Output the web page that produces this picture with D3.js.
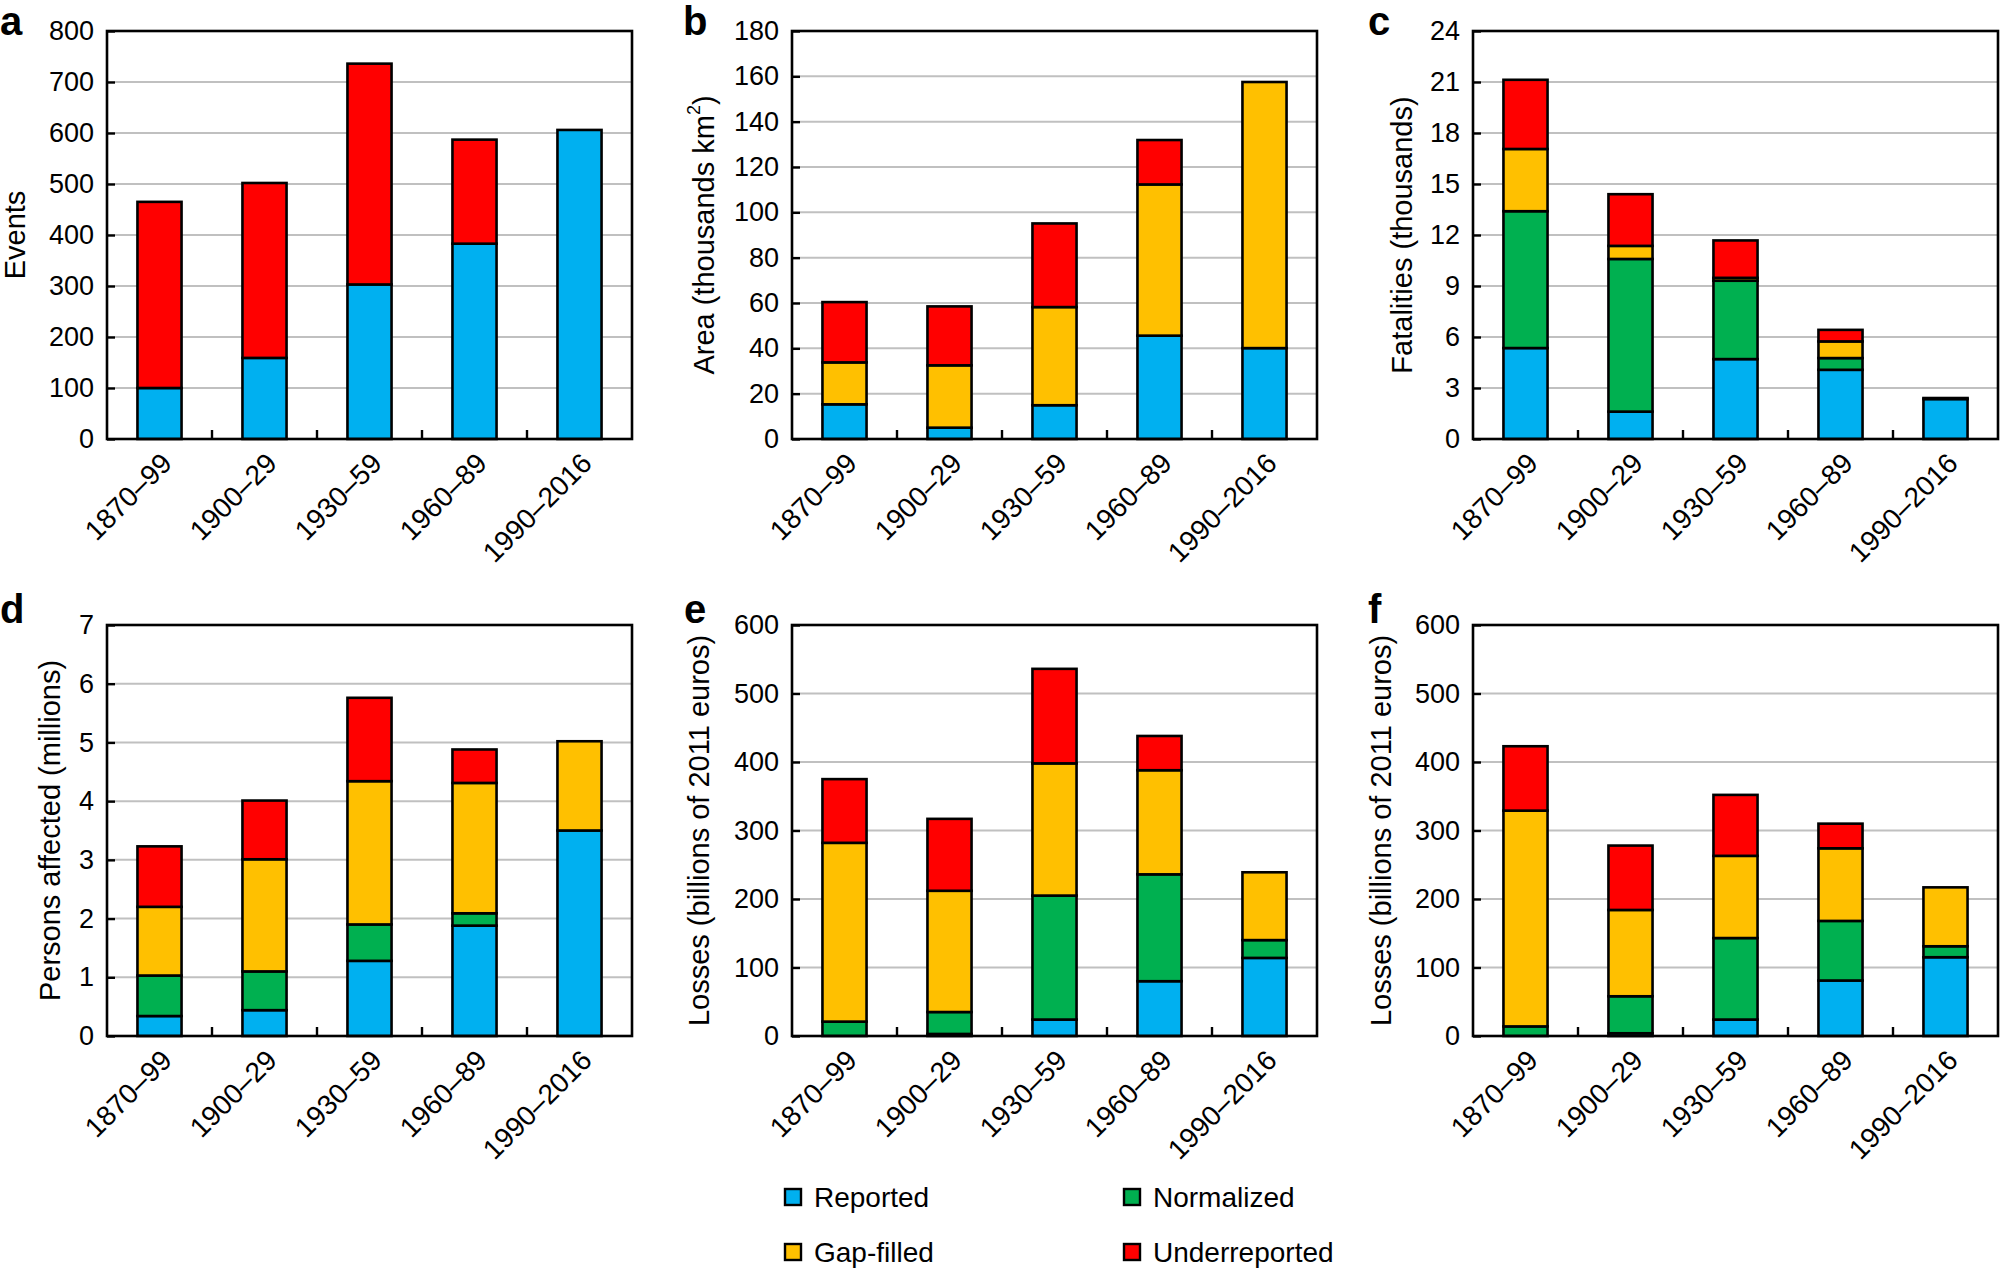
<!DOCTYPE html>
<html><head><meta charset="utf-8">
<script src="https://cdn.jsdelivr.net/npm/d3@7"></script>
<style>
body{margin:0;background:#fff}
text{font-family:"Liberation Sans",Arial,Helvetica,sans-serif;fill:#000}
</style>
</head><body>
<svg id="chart" width="2002" height="1269"></svg>
<script>
// ---------- data ----------
const categories = ["1870–99","1900–29","1930–59","1960–89","1990–2016"];
const seriesNames = ["Reported","Normalized","Gap-filled","Underreported"];
const seriesColors = ["#00b0f0","#00b050","#ffc000","#ff0000"];

// a: Events
const eventsReported      = [100, 159, 303, 383, 606];
const eventsNormalized    = [0, 0, 0, 0, 0];
const eventsGapFilled     = [0, 0, 0, 0, 0];
const eventsUnderreported = [365, 343, 433, 204, 0];
const eventsTicks = [0,100,200,300,400,500,600,700,800];

// b: Area (thousands km2)
const areaReported      = [15.3, 5.0, 14.9, 45.6, 40.1];
const areaNormalized    = [0, 0, 0, 0, 0];
const areaGapFilled     = [18.5, 27.5, 43.3, 66.7, 117.4];
const areaUnderreported = [26.6, 26.0, 36.9, 19.6, 0];
const areaTicks = [0,20,40,60,80,100,120,140,160,180];

// c: Fatalities (thousands)
const fatalReported      = [5.35, 1.61, 4.70, 4.07, 2.35];
const fatalNormalized    = [8.05, 8.98, 4.61, 0.69, 0.06];
const fatalGapFilled     = [3.66, 0.77, 0.17, 0.98, 0];
const fatalUnderreported = [4.07, 3.04, 2.20, 0.68, 0];
const fatalTicks = [0,3,6,9,12,15,18,21,24];

// d: Persons affected (millions)
const persReported      = [0.34, 0.44, 1.28, 1.88, 3.50];
const persNormalized    = [0.69, 0.66, 0.62, 0.21, 0];
const persGapFilled     = [1.17, 1.91, 2.44, 2.22, 1.52];
const persUnderreported = [1.03, 1.00, 1.42, 0.57, 0];
const persTicks = [0,1,2,3,4,5,6,7];

// e: Losses (billions of 2011 euros)
const lossEReported      = [0, 3, 24, 80, 114];
const lossENormalized    = [21, 32, 181, 156, 26];
const lossEGapFilled     = [261, 177, 193, 152, 99];
const lossEUnderreported = [93, 105, 138, 50, 0];
const lossETicks = [0,100,200,300,400,500,600];

// f: Losses (billions of 2011 euros)
const lossFReported      = [0, 4, 24, 81, 115];
const lossFNormalized    = [14, 54, 119, 87, 16];
const lossFGapFilled     = [315, 126, 120, 106, 86];
const lossFUnderreported = [94, 94, 89, 36, 0];
const lossFTicks = [0,100,200,300,400,500,600];

// ---------- layout ----------
const colX = [[107,632],[792,1317],[1473,1998]];
const rowY = [[31,439],[625,1036]];
const letterY = [35,623];

const panels = [
  {letter:"a", lx:0,    col:0,row:0, title:"Events", toff:92, ticks:eventsTicks,
   series:[eventsReported,eventsNormalized,eventsGapFilled,eventsUnderreported]},
  {letter:"b", lx:683,  col:1,row:0, title:"Area (thousands km", sup:"2", tail:")", toff:88, ticks:areaTicks,
   series:[areaReported,areaNormalized,areaGapFilled,areaUnderreported]},
  {letter:"c", lx:1368, col:2,row:0, title:"Fatalities (thousands)", toff:71, ticks:fatalTicks,
   series:[fatalReported,fatalNormalized,fatalGapFilled,fatalUnderreported]},
  {letter:"d", lx:0,    col:0,row:1, title:"Persons affected (millions)", toff:57, ticks:persTicks,
   series:[persReported,persNormalized,persGapFilled,persUnderreported]},
  {letter:"e", lx:684,  col:1,row:1, title:"Losses (billions of 2011 euros)", toff:93, ticks:lossETicks,
   series:[lossEReported,lossENormalized,lossEGapFilled,lossEUnderreported]},
  {letter:"f", lx:1368, col:2,row:1, title:"Losses (billions of 2011 euros)", toff:92, ticks:lossFTicks,
   series:[lossFReported,lossFNormalized,lossFGapFilled,lossFUnderreported]}
];

const svg = d3.select("#chart");
const TICK_FS = 27, XLAB_FS = 28, TITLE_FS = 29;

panels.forEach(p => {
  const [x0,x1] = colX[p.col];
  const [y0,y1] = rowY[p.row];
  const g = svg.append("g");
  const x = d3.scaleBand().domain(categories).range([x0,x1]);
  const yMax = p.ticks[p.ticks.length-1];
  const y = d3.scaleLinear().domain([0,yMax]).range([y1,y0]);

  // gridlines
  g.append("g").selectAll("line").data(p.ticks.slice(1,-1)).join("line")
    .attr("x1",x0).attr("x2",x1).attr("y1",d=>y(d)).attr("y2",d=>y(d))
    .attr("stroke","#c0c0c0").attr("stroke-width",2);

  // stacked bars
  const rows = categories.map((c,i)=>{const o={cat:c}; p.series.forEach((s,k)=>o[k]=s[i]); return o;});
  const stacked = d3.stack().keys([0,1,2,3])(rows);
  const bw = x.bandwidth()*0.42;
  stacked.forEach((layer,k)=>{
    g.append("g").selectAll("rect").data(layer.filter(d=>d[1]-d[0]>0)).join("rect")
      .attr("x",d=>x(d.data.cat)+x.bandwidth()/2-bw/2)
      .attr("width",bw)
      .attr("y",d=>y(d[1]))
      .attr("height",d=>y(d[0])-y(d[1]))
      .attr("fill",seriesColors[k])
      .attr("stroke","#000").attr("stroke-width",2.6);
  });

  // frame
  g.append("rect").attr("x",x0).attr("y",y0).attr("width",x1-x0).attr("height",y1-y0)
    .attr("fill","none").attr("stroke","#000").attr("stroke-width",2.6);

  // y axis (inward ticks)
  const ya = g.append("g").attr("transform",`translate(${x0},0)`)
    .call(d3.axisLeft(y).tickValues(p.ticks).tickSize(-8).tickPadding(13).tickFormat(d3.format("d")));
  ya.select(".domain").remove();
  ya.selectAll(".tick line").attr("stroke","#000").attr("stroke-width",2.4);
  ya.selectAll(".tick text").attr("font-size",TICK_FS).attr("fill","#000")
    .style("font-family","'Liberation Sans',Arial,sans-serif");

  // bottom boundary ticks
  g.append("g").selectAll("line").data(categories.slice(1)).join("line")
    .attr("x1",d=>x(d)).attr("x2",d=>x(d)).attr("y1",y1).attr("y2",y1-9)
    .attr("stroke","#000").attr("stroke-width",2.4);

  // x labels
  const xa = g.append("g").attr("transform",`translate(0,${y1})`)
    .call(d3.axisBottom(x).tickSize(0).tickPadding(0));
  xa.select(".domain").remove();
  xa.selectAll(".tick text")
    .attr("font-size",XLAB_FS).attr("fill","#000")
    .style("font-family","'Liberation Sans',Arial,sans-serif")
    .attr("text-anchor","end")
    .attr("dy",0).attr("y",0)
    .attr("transform","translate(14,26) rotate(-45)");

  // y title
  const t = g.append("text")
    .attr("transform",`translate(${x0-p.toff},${(y0+y1)/2}) rotate(-90)`)
    .attr("text-anchor","middle").attr("dominant-baseline","central")
    .attr("font-size",TITLE_FS);
  t.append("tspan").text(p.title);
  if (p.sup) {
    t.append("tspan").attr("font-size",18).attr("baseline-shift","super").text(p.sup);
    t.append("tspan").text(p.tail);
  }

  // panel letter
  g.append("text").attr("x",p.lx).attr("y",letterY[p.row])
    .attr("font-size",40).attr("font-weight","bold").text(p.letter);
});

// legend
const legendItems = seriesNames.map((n,i)=>({name:n,color:seriesColors[i]}));
const legendPos = [[785,1197],[1124,1197],[785,1252],[1124,1252]];
const legendOrder = [0,1,2,3]; // Reported, Normalized, Gap-filled, Underreported
const lg = svg.append("g").selectAll("g").data(legendOrder).join("g")
  .attr("transform",(d,i)=>`translate(${legendPos[i][0]},${legendPos[i][1]})`);
lg.append("rect").attr("x",0).attr("y",-8).attr("width",16).attr("height",16)
  .attr("fill",d=>legendItems[d].color).attr("stroke","#000").attr("stroke-width",2.4);
lg.append("text").attr("x",29).attr("y",0).attr("dominant-baseline","central")
  .attr("font-size",28).text(d=>legendItems[d].name);
</script>
</body></html>
